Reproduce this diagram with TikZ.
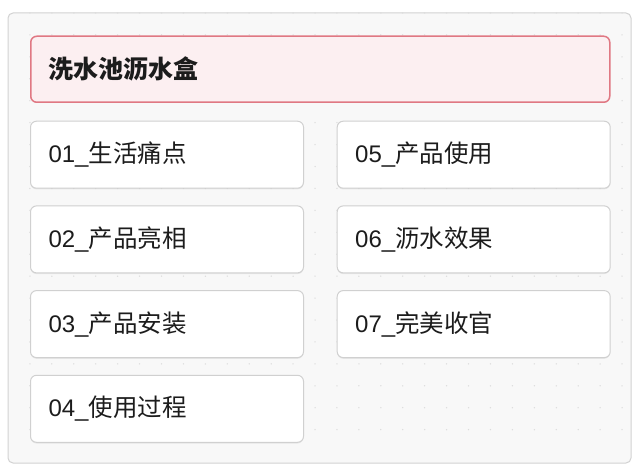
\documentclass[tikz,border=0pt]{standalone}
\usepackage{fontspec}
\setmainfont{Noto Sans CJK SC}
\newfontfamily\latinfont{Liberation Sans}
\usetikzlibrary{shadows}
\definecolor{framebg}{HTML}{F8F8F8}
\definecolor{framedraw}{HTML}{D2D2D2}
\definecolor{dotc}{HTML}{DCDCDC}
\definecolor{titlebg}{HTML}{FCEFF1}
\definecolor{titledraw}{HTML}{E07883}
\definecolor{itemdraw}{HTML}{D0D0D0}
\definecolor{txt}{HTML}{1C1C1C}
\newcommand{\itemlbl}[2]{{\fontsize{24}{28}\selectfont\latinfont #1\_}#2}
\tikzset{
  frame/.style={draw=framedraw, fill=framebg, line width=1pt, rounded corners=5pt},
  titlebox/.style={draw=titledraw, fill=titlebg, line width=1.5pt, rounded corners=6pt,
    minimum width=579pt, minimum height=66pt, text width=543pt, inner sep=0pt, align=left,
    font=\fontsize{25}{28}\selectfont\bfseries, text=txt, anchor=north west},
  itembox/.style={draw=itemdraw, fill=white, line width=1pt, rounded corners=6pt,
    minimum width=273pt, minimum height=67pt, text width=237pt, inner sep=0pt, align=left,
    font=\fontsize{24.5}{28}\selectfont, text=txt, anchor=north west,
    drop shadow={shadow xshift=0pt, shadow yshift=-1.2pt, fill=black, opacity=0.07}},
}
\begin{document}
\begin{tikzpicture}[x=1pt,y=-1pt]
\useasboundingbox (0,0) rectangle (642,473);
\fill[white] (0,0) rectangle (642,473);
\draw[frame] (8,13) rectangle (631,463);
\foreach \i in {1,...,28} {
  \foreach \j in {1,...,20} {
    \fill[dotc] ({8+\i*21.93},{13+\j*21.93-21.93}) circle (0.75pt);
  }
}
\node[titlebox] (title) at (30,35.5) {洗水池沥水盒};
\node[itembox] (i1) at (30,120.7) {\itemlbl{01}{生活痛点}};
\node[itembox] (i2) at (30,205.4) {\itemlbl{02}{产品亮相}};
\node[itembox] (i3) at (30,290.1) {\itemlbl{03}{产品安装}};
\node[itembox] (i4) at (30,374.8) {\itemlbl{04}{使用过程}};
\node[itembox] (i5) at (336.7,120.7) {\itemlbl{05}{产品使用}};
\node[itembox] (i6) at (336.7,205.4) {\itemlbl{06}{沥水效果}};
\node[itembox] (i7) at (336.7,290.1) {\itemlbl{07}{完美收官}};
\end{tikzpicture}
\end{document}
